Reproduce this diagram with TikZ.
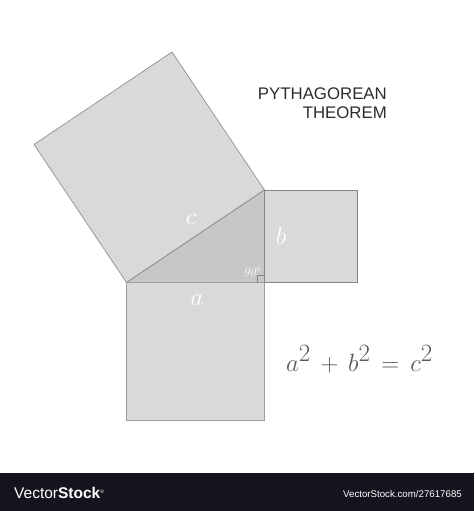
\documentclass[tikz,border=0pt]{standalone}
\usepackage{amsmath}
\usepackage{fontspec}
\newfontfamily\titlefont{Liberation Sans}
\usetikzlibrary{arrows.meta}
\definecolor{sqgray}{HTML}{D9D9D9}
\definecolor{trigray}{HTML}{C7C7C7}
\definecolor{edgegray}{HTML}{858585}
\definecolor{agray}{HTML}{9E9E9E}
\definecolor{txtgray}{HTML}{2C2C2C}
\definecolor{eqgray}{HTML}{5A5A5A}
\definecolor{bardark}{HTML}{14141F}

\begin{document}
\begin{tikzpicture}[x=1pt,y=-1pt]
\useasboundingbox[fill=white] (0,0) rectangle (474,511);

% triangle and the corners of the three squares
\coordinate (A) at (126.5,282.5);
\coordinate (C) at (264.5,282.5);
\coordinate (B) at (264.5,190);
\coordinate (D) at (172,52);
\coordinate (E) at (34,144.5);
\coordinate (F) at (357.5,190);
\coordinate (G) at (357.5,282.5);
\coordinate (H) at (264.5,420.5);
\coordinate (I) at (126.5,420.5);

\begin{scope}[every path/.style={fill=sqgray,draw=edgegray,line width=0.6pt}]
    \path (A) -- (B) -- (D) -- (E) -- cycle;
    \path (C) -- (B) -- (F) -- (G) -- cycle;
\end{scope}
\path [fill=sqgray,draw=agray,line width=1.3pt] (A) -- (C) -- (H) -- (I) -- cycle;
\path [fill=trigray] (A) -- (C) -- (B) -- cycle;
\draw [edgegray,line width=0.6pt] (A) -- (B) -- (C);
\draw [agray,line width=1.3pt] (A) -- (C);
\draw [edgegray,line width=0.6pt] (C) ++(-7,0) -- ++(0,-7) -- ++(7,0);

\begin{scope}[every node/.style={text=white,inner sep=0pt}]
    \node (lc) at (191,219) {\fontsize{28}{28}\selectfont$c$};
    \node (lb) at (281,236) {\fontsize{28}{28}\selectfont$b$};
    \node (la) at (197,300) {\fontsize{28}{28}\selectfont$a$};
    \node (ang) at (252.5,272) {\fontsize{12.5}{12.5}\selectfont\textit{90}$^\circ$};
\end{scope}

\begin{scope}[every node/.style={text=txtgray,inner sep=0pt,anchor=base east,
              font=\titlefont\fontsize{16.8}{16.8}\selectfont}]
    \node (t1) at (387,99.3) {PYTHAGOREAN};
    \node (t2) at (387,118) {THEOREM};
\end{scope}

\node [text=eqgray,inner sep=0pt,anchor=base west] (eq) at (286,371)
    {\fontsize{33}{33}\selectfont$a^2\,+\,b^2\,=\,c^2$};

\fill [bardark] (0,472.5) rectangle (474,511);
\node [text=white,inner sep=0pt,anchor=base west,font=\titlefont\fontsize{15.5}{15.5}\selectfont] (wm) at (14,498)
    {Vector\textbf{Stock}\raisebox{5pt}{\fontsize{5}{5}\selectfont ®}};
\node [text=white,inner sep=0pt,anchor=base east,font=\titlefont\fontsize{9.7}{9.7}\selectfont] (url) at (462,497)
    {VectorStock.com/27617685};
\end{tikzpicture}
\end{document}
